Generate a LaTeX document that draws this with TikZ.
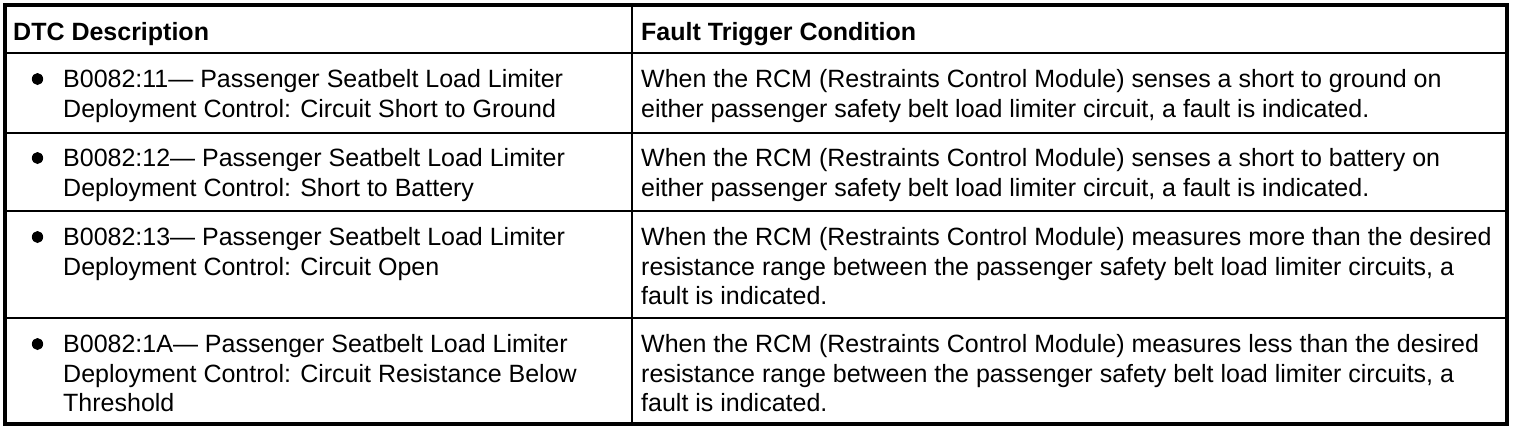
\documentclass[tikz,border=0pt]{standalone}
\usepackage{fontspec}
\setmainfont{Liberation Sans}
\begin{document}
\begin{tikzpicture}[x=1pt,y=-1pt,
  txt/.style={anchor=base west, inner sep=0pt, font=\fontsize{25}{30}\selectfont},
  hdr/.style={txt, font=\fontsize{25}{30}\selectfont\bfseries},
  rowline/.style={line width=2pt},
  colline/.style={line width=1.5pt},
  frame/.style={line width=4pt},
  dot/.style={fill=black, draw=none}]
\useasboundingbox (0,0) rectangle (1520,432);
% grid coordinates
\coordinate (TL) at (5,5);
\coordinate (BR) at (1507,424);
\coordinate (cT) at (632,5);
\coordinate (cB) at (632,424);
\foreach \n/\y in {a/53,b/133,c/211,d/318}{
  \coordinate (L\n) at (5,\y);
  \coordinate (R\n) at (1507,\y);
}
% lines
\draw[rowline] (La) -- (Ra);
\draw[rowline] (Lb) -- (Rb);
\draw[rowline] (Lc) -- (Rc);
\draw[rowline] (Ld) -- (Rd);
\draw[colline] (cT) -- (cB);
\draw[frame] (TL) rectangle (BR);
% header
\node[hdr] (h1) at (13,40) {DTC Description};
\node[hdr] (h2) at (641,40) {Fault Trigger Condition};
% bullets
\fill[dot] (37.5,79) ellipse (5.6 and 6);
\fill[dot] (37.5,158) ellipse (5.6 and 6);
\fill[dot] (37.5,237) ellipse (5.6 and 6);
\fill[dot] (37.5,344) ellipse (5.6 and 6);
% row 1
\node[txt] (r1a1) at (63,87) {B0082:11— Passenger Seatbelt Load Limiter};
\node[txt] (r1a2) at (63,117) {Deployment Control: Circuit Short to Ground};
\node[txt] (r1b1) at (641,87) {When the RCM (Restraints Control Module) senses a short to ground on};
\node[txt] (r1b2) at (641,117) {either passenger safety belt load limiter circuit, a fault is indicated.};
% row 2
\node[txt] (r2a1) at (63,166) {B0082:12— Passenger Seatbelt Load Limiter};
\node[txt] (r2a2) at (63,196) {Deployment Control: Short to Battery};
\node[txt] (r2b1) at (641,166) {When the RCM (Restraints Control Module) senses a short to battery on};
\node[txt] (r2b2) at (641,196) {either passenger safety belt load limiter circuit, a fault is indicated.};
% row 3
\node[txt] (r3a1) at (63,245) {B0082:13— Passenger Seatbelt Load Limiter};
\node[txt] (r3a2) at (63,275) {Deployment Control: Circuit Open};
\node[txt] (r3b1) at (641,245) {When the RCM (Restraints Control Module) measures more than the desired};
\node[txt] (r3b2) at (641,275) {resistance range between the passenger safety belt load limiter circuits, a};
\node[txt] (r3b3) at (641,304) {fault is indicated.};
% row 4
\node[txt] (r4a1) at (63,352) {B0082:1A— Passenger Seatbelt Load Limiter};
\node[txt] (r4a2) at (63,382) {Deployment Control: Circuit Resistance Below};
\node[txt] (r4a3) at (63,411) {Threshold};
\node[txt] (r4b1) at (641,352) {When the RCM (Restraints Control Module) measures less than the desired};
\node[txt] (r4b2) at (641,382) {resistance range between the passenger safety belt load limiter circuits, a};
\node[txt] (r4b3) at (641,411) {fault is indicated.};
\end{tikzpicture}
\end{document}
